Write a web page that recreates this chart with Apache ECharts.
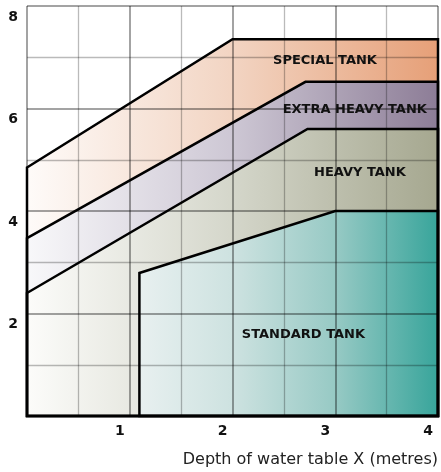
<!DOCTYPE html>
<html><head><meta charset="utf-8">
<script src="https://cdn.jsdelivr.net/npm/echarts@6/dist/echarts.min.js"></script>
<style>html,body{margin:0;padding:0;background:#fff}#c{width:441px;height:472px}</style>
</head><body><div id="c"></div>
<script>
// ---- data ----
const xTickLabels = ['', '1', '2', '3', '4'];
const yTickLabels = ['', '2', '4', '6', '8'];
const regionNames = ['SPECIAL TANK', 'EXTRA HEAVY TANK', 'HEAVY TANK', 'STANDARD TANK'];
// top boundary of each region (x metres, y value), region filled down to 0
const specialTop  = [[0, 4.85], [2, 7.35], [4, 7.35]];
const extraTop    = [[0, 3.47], [2.71, 6.52], [4, 6.52]];
const heavyTop    = [[0, 2.40], [2.73, 5.60], [4, 5.60]];
const standardTop = [[1.094, 0], [1.094, 2.79], [3, 4.0], [4, 4.0]];
const labelPos = [[2.90, 6.93], [3.19, 5.97], [3.24, 4.74], [2.69, 1.58]];

const tops = [specialTop, extraTop, heavyTop, standardTop];
const L = 27, R = 440;
function grad(stops) {
  return { type: 'linear', x: L, y: 0, x2: R, y2: 0, global: true,
    colorStops: stops.map(s => ({ offset: s[0], color: s[1] })) };
}
const fills = [
  grad([[0, '#fefbf9'], [0.5, '#f2d4c2'], [1, '#e69f77']]),
  grad([[0, '#f8f8fa'], [0.5, '#cdc7d4'], [1, '#8c7c96']]),
  grad([[0, '#fcfcfa'], [0.5, '#d4d6ca'], [1, '#a5a78f']]),
  grad([[0, '#ffffff'], [0.27, '#e8f0f0'], [0.5, '#cde2e0'], [0.75, '#96c9c4'], [1, '#36a49a']])
];

function polyPoints(api, i) {
  const top = tops[i];
  const pts = top.map(p => api.coord(p));
  pts.push(api.coord([4, 0]));
  pts.push(api.coord([top[0][0], 0]));
  return pts;
}

const majorLine = { color: 'rgba(0,0,0,0.36)', width: 2 };
const minorLine = { color: 'rgba(0,0,0,0.27)', width: 1.3 };

const chart = echarts.init(document.getElementById('c'));
chart.setOption({
  animation: false,
  grid: { left: L, right: 441 - R, top: 6, bottom: 56 },
  xAxis: {
    type: 'value', min: 0, max: 4, interval: 1, z: 3,
    axisLine: { show: false }, axisTick: { show: false },
    splitLine: { show: true, lineStyle: majorLine },
    minorTick: { show: false, splitNumber: 2 },
    minorSplitLine: { show: true, lineStyle: minorLine },
    axisLabel: {
      margin: 8, color: '#111', fontFamily: 'DejaVu Sans', fontWeight: 'bold', fontSize: 14,
      padding: [0, 20, 0, 0],
      formatter: v => xTickLabels[Math.round(v)]
    },
    name: 'Depth of water table X (metres)', nameLocation: 'end', nameGap: 0,
    nameTextStyle: { fontFamily: 'DejaVu Sans', fontSize: 16, color: '#222',
      align: 'right', verticalAlign: 'top', padding: [36, 0, 0, 0] }
  },
  yAxis: {
    type: 'value', min: 0, max: 8, interval: 2, z: 3,
    axisLine: { show: false }, axisTick: { show: false },
    splitLine: { show: true, lineStyle: majorLine },
    minorTick: { show: false, splitNumber: 2 },
    minorSplitLine: { show: true, lineStyle: minorLine },
    axisLabel: {
      margin: 9, color: '#111', fontFamily: 'DejaVu Sans', fontWeight: 'bold', fontSize: 14,
      verticalAlign: 'top', padding: [4, 0, 0, 0],
      formatter: v => yTickLabels[Math.round(v / 2)]
    }
  },
  series: [
    {
      type: 'custom', z: 1, silent: true, clip: false,
      data: [0, 1, 2, 3],
      renderItem: (params, api) => ({
        type: 'polygon',
        shape: { points: polyPoints(api, params.dataIndex) },
        style: { fill: fills[params.dataIndex], stroke: null }
      })
    },
    {
      type: 'custom', z: 5, silent: true, clip: false,
      data: [0, 1, 2, 3],
      renderItem: (params, api) => {
        const i = params.dataIndex;
        const c = api.coord(labelPos[i]);
        return {
          type: 'group',
          children: [
            { type: 'polygon', shape: { points: polyPoints(api, i) },
              style: { fill: null, stroke: '#000', lineWidth: 2.5, lineJoin: 'miter' } },
            { type: 'text', x: c[0], y: c[1],
              style: { text: regionNames[i], fill: '#111', font: 'bold 13px "DejaVu Sans"',
                align: 'center', verticalAlign: 'middle' } }
          ]
        };
      }
    }
  ]
});
</script></body></html>
